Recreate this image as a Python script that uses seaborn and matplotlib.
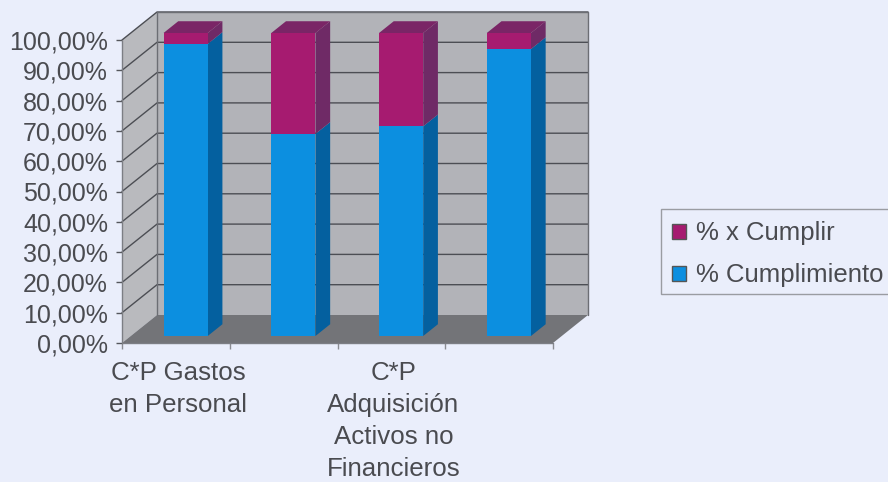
import numpy as np
import pandas as pd
import matplotlib
matplotlib.use("Agg")
import matplotlib.pyplot as plt
from matplotlib.patches import Patch, Rectangle
import seaborn as sns

categories = ["C*P Gastos en Personal", "Categoria 2", "C*P Adquisición Activos no Financieros", "Categoria 4"]
tick_labels = ["C*P Gastos\nen Personal", "", "C*P\nAdquisición\nActivos no\nFinancieros", ""]
cumplimiento = [96.4, 66.7, 69.2, 94.7]
x_cumplir = [3.6, 33.3, 30.8, 5.3]
y_ticks = [0, 10, 20, 30, 40, 50, 60, 70, 80, 90, 100]
y_labels = [f"{v},00%" for v in y_ticks]
series_names = ["% x Cumplir", "% Cumplimiento"]

BG = "#eaeefb"; WALL = "#b2b3b8"; SIDE = "#b9babe"; FLOOR = "#737478"; GRID = "#4c4e54"; TXT = "#4a4b50"
BLUE = "#0c8fe0"; BLUE_S = "#04609f"; MAG = "#a61b70"; MAG_S = "#6f2a66"; MAG_T = "#7a2566"

W, H = 888, 482
sns.set_style("white")
plt.rcParams["font.family"] = ["Liberation Sans", "DejaVu Sans"]
fig = plt.figure(figsize=(W / 100, H / 100), dpi=100, facecolor=BG)
L, R, B, T = 122, 553, 343, 40
ax = fig.add_axes([L / W, 1 - B / H, (R - L) / W, (B - T) / H])
ax.patch.set_alpha(0)

df = pd.DataFrame({"cat": categories, "cum": cumplimiento, "pend": x_cumplir})
df["total"] = df["cum"] + df["pend"]
BW = 0.41
sns.barplot(data=df, x="cat", y="total", color=MAG, saturation=1, width=BW, ax=ax, zorder=6)
sns.barplot(data=df, x="cat", y="cum", color=BLUE, saturation=1, width=BW, ax=ax, zorder=7)
ax.set_xlim(-0.5, 3.5)
ax.set_ylim(0, 100)

# oblique projection: depth t in 0..1 moves a point up and to the right
ux = (R - L) / 4
uy = (B - T) / 100
DX, DY = 35 / ux, 28 / uy
T0, T1 = 0.25, 0.67
SHIFT = 1.0 / ux
x0, x1 = -0.5, 3.5

# shift the seaborn front faces back into the depth of the box
ddx, ddy = T0 * DX + SHIFT, T0 * DY
for p in ax.patches:
    if isinstance(p, Rectangle):
        p.set_x(p.get_x() + ddx)
        p.set_y(p.get_y() + ddy)
        p.set_clip_on(False)
        p.set_linewidth(0)

def P(x, y, t):
    return x + t * DX, y + t * DY

def face(pts, color, z, **kw):
    xs, ys = zip(*[P(*p) for p in pts])
    ax.fill(xs, ys, color=color, zorder=z, clip_on=False, lw=0, **kw)

face([(x0, 0, 0), (x0, 0, 1), (x0, 100, 1), (x0, 100, 0)], SIDE, 1)
face([(x0, 0, 1), (x1, 0, 1), (x1, 100, 1), (x0, 100, 1)], WALL, 1)
face([(x0, 0, 0), (x1, 0, 0), (x1, 0, 1), (x0, 0, 1)], FLOOR, 2)

for v in y_ticks[1:]:
    xs, ys = zip(P(x0, v, 0), P(x0, v, 1), P(x1, v, 1))
    ax.plot(xs, ys, color=GRID, lw=1.0, zorder=3, clip_on=False)
xs, ys = zip(P(x0, 0, 1), P(x0, 100, 1), P(x1, 100, 1), P(x1, 0, 1))
ax.plot(xs, ys, color="#6c6e74", lw=1.0, zorder=3, clip_on=False)
xs, ys = zip(P(x0, 100, 0), P(x0, 0, 0), P(x1, 0, 0))
ax.plot(xs, ys, color="#7c7e84", lw=1.0, zorder=3, clip_on=False)

for i, (c, t) in enumerate(zip(df["cum"], df["total"])):
    xr = i + BW / 2 + SHIFT
    xl = i - BW / 2 + SHIFT
    face([(xr, 0, T0), (xr, 0, T1), (xr, c, T1), (xr, c, T0)], BLUE_S, 5)
    face([(xr, c, T0), (xr, c, T1), (xr, t, T1), (xr, t, T0)], MAG_S, 5)
    face([(xl, t, T0), (xr, t, T0), (xr, t, T1), (xl, t, T1)], MAG_T, 5)

ax.set_xlabel(""); ax.set_ylabel("")
sns.despine(ax=ax, left=True, bottom=True)
ax.set_yticks(y_ticks, y_labels)
ax.set_xticks(np.arange(x0, x1 + 1))
ax.set_xticklabels([])
ax.set_xticks(np.arange(4) + 2 / ux, tick_labels, minor=True, linespacing=1.42, va="top")
ax.tick_params(axis="y", left=True, length=4.5, width=1, color="#55575c", pad=5.5,
               labelsize=18, labelcolor=TXT)
ax.tick_params(axis="x", which="major", bottom=True, length=4, width=1, color="#8a8c92")
ax.tick_params(axis="x", which="minor", bottom=False, length=0, pad=13, labelsize=18.6, labelcolor=TXT)

# legend box
fig.add_artist(Rectangle((661 / W, 1 - 294 / H), 240 / W, 85 / H, transform=fig.transFigure,
                         facecolor=BG, edgecolor="#9a9ca2", lw=1))
handles = [Patch(facecolor=MAG, edgecolor="#555"), Patch(facecolor=BLUE, edgecolor="#555")]
leg = fig.legend(handles, series_names, loc="upper left",
                 bbox_to_anchor=(663 / W, 1 - 212 / H), fontsize=18.5, labelcolor=TXT,
                 frameon=False,
                 borderpad=0.36, labelspacing=0.7, handlelength=0.52, handleheight=0.52,
                 handletextpad=0.42, borderaxespad=0)
fig.savefig("out.png", dpi=100, facecolor=BG)
